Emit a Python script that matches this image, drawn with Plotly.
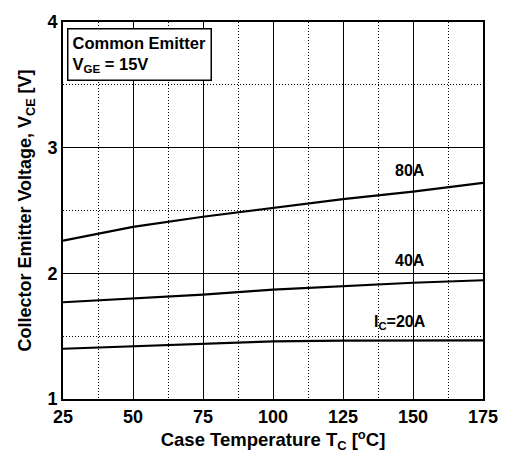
import plotly.graph_objects as go

# Case temperature (°C)
temps = [25, 50, 75, 100, 125, 150, 175]
# Collector-emitter voltage V_CE (V) for each collector current
vce_80a = [2.26, 2.37, 2.45, 2.52, 2.59, 2.65, 2.72]
vce_40a = [1.77, 1.80, 1.83, 1.87, 1.90, 1.925, 1.945]
vce_20a = [1.40, 1.42, 1.443, 1.458, 1.464, 1.467, 1.467]

x_ticks = [25, 50, 75, 100, 125, 150, 175]
y_ticks = [1, 2, 3, 4]

FONT = "Liberation Sans, Arial, sans-serif"

fig = go.Figure()
for ys in (vce_80a, vce_40a, vce_20a):
    fig.add_trace(go.Scatter(x=temps, y=ys, mode="lines",
                             line=dict(color="black", width=2.2), showlegend=False,
                             hoverinfo="skip"))

# curve labels
labels = [(149, 2.82, "80A"), (149, 2.10, "40A"), (145.5, 1.61, "I<sub>C</sub>=20A")]
for lx, ly, txt in labels:
    fig.add_annotation(x=lx, y=ly, text="<b>" + txt + "</b>", showarrow=False,
                       font=dict(family=FONT, size=16, color="black"))

# condition box
fig.add_annotation(x=0.009, y=0.985, xref="paper", yref="paper", xanchor="left", yanchor="top",
                   text="<b>Common Emitter</b><br><b>V<sub>GE</sub> = 15V</b>",
                   align="left", showarrow=False, bordercolor="black", borderwidth=1.5,
                   borderpad=4, bgcolor="white",
                   font=dict(family=FONT, size=16.5, color="black"))

fig.update_layout(
    width=510, height=455,
    margin=dict(l=63, r=24, t=16, b=53),
    paper_bgcolor="white", plot_bgcolor="white",
    font=dict(family=FONT, color="black"),
    xaxis=dict(range=[25, 175], tickvals=x_ticks, ticktext=[f"<b>{v}</b>" for v in x_ticks],
               tickfont=dict(size=18), showline=True, linecolor="black", linewidth=2,
               mirror=True, showgrid=True, gridcolor="black", gridwidth=1, zeroline=False,
               ticks="", minor=dict(dtick=12.5, tick0=25, showgrid=True, gridcolor="black",
                                    griddash="1px,2px", gridwidth=1),
               title=dict(text="<b>Case Temperature T<sub>C</sub> [<sup>o</sup>C]</b>",
                          font=dict(size=18.5), standoff=3)),
    yaxis=dict(range=[1, 4], tickvals=y_ticks, ticktext=[f"<b>{v}</b>" for v in y_ticks],
               tickfont=dict(size=18), showline=True, linecolor="black", linewidth=2,
               mirror=True, showgrid=True, gridcolor="black", gridwidth=1, zeroline=False,
               ticks="", minor=dict(dtick=0.5, tick0=1, showgrid=True, gridcolor="black",
                                    griddash="1px,2px", gridwidth=1),
               title=dict(text="<b>Collector Emitter Voltage, V<sub>CE</sub> [V]</b>",
                          font=dict(size=18), standoff=11)),
)

fig.write_html("out.html")
